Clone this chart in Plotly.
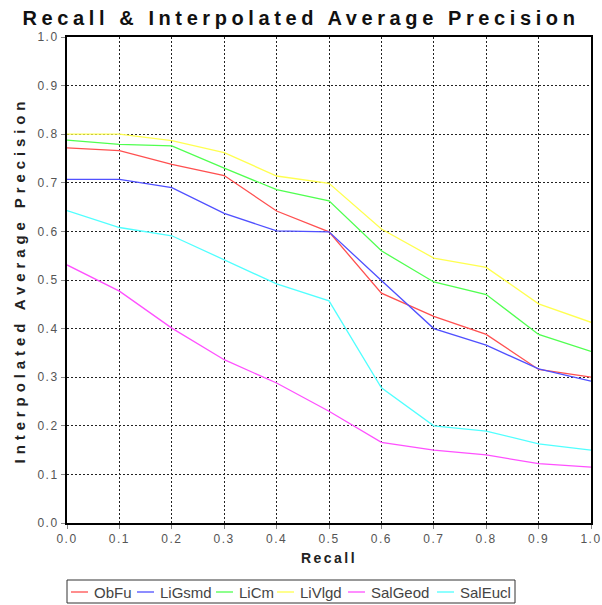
import plotly.graph_objects as go

recall = [0.0, 0.1, 0.2, 0.3, 0.4, 0.5, 0.6, 0.7, 0.8, 0.9, 1.0]
ObFu = [0.772, 0.766, 0.738, 0.715, 0.642, 0.599, 0.473, 0.425, 0.388, 0.316, 0.300]
LiGsmd = [0.707, 0.707, 0.690, 0.637, 0.601, 0.599, 0.499, 0.400, 0.366, 0.317, 0.292]
LiCm = [0.788, 0.779, 0.776, 0.730, 0.686, 0.663, 0.560, 0.496, 0.470, 0.388, 0.353]
LiVlgd = [0.800, 0.800, 0.787, 0.762, 0.714, 0.699, 0.605, 0.545, 0.526, 0.451, 0.413]
SalGeod = [0.531, 0.477, 0.401, 0.336, 0.288, 0.230, 0.166, 0.150, 0.140, 0.122, 0.115]
SalEucl = [0.643, 0.608, 0.591, 0.542, 0.492, 0.457, 0.278, 0.200, 0.189, 0.163, 0.150]

series_names = ["ObFu", "LiGsmd", "LiCm", "LiVlgd", "SalGeod", "SalEucl"]
series_values = [ObFu, LiGsmd, LiCm, LiVlgd, SalGeod, SalEucl]
colors = ["#ff5050", "#5050ff", "#50ff50", "#ffff50", "#ff50ff", "#50ffff"]
tick_vals = [0.0, 0.1, 0.2, 0.3, 0.4, 0.5, 0.6, 0.7, 0.8, 0.9, 1.0]
tick_text = ["0.0", "0.1", "0.2", "0.3", "0.4", "0.5", "0.6", "0.7", "0.8", "0.9", "1.0"]

FONT = "Liberation Sans, Arial, sans-serif"
W, H = 602, 605
ML, MR, MT, MB = 67, 11, 37, 82
PW, PH = W - ML - MR, H - MT - MB


def px_x(px):
    return (px - ML) / PW


def px_y(py):
    return (H - MB - py) / PH


fig = go.Figure()
for name, vals, col in zip(series_names, series_values, colors):
    fig.add_trace(go.Scatter(x=recall, y=vals, mode="lines", name=name,
                             line=dict(color=col, width=1.3)))

axis_common = dict(
    range=[0, 1], tickvals=tick_vals, ticktext=tick_text,
    showgrid=True, gridcolor="#222222", gridwidth=1, griddash="2px,2px",
    showline=True, linecolor="#000000", mirror=True, zeroline=False,
    ticks="outside", ticklen=4, tickcolor="#888888",
    tickfont=dict(family=FONT, size=12, color="#555555"),
)

# legend box (layout decoration) built from the series names / colours
legend_item_px = [71, 137, 216, 277, 348, 437]   # left edge of each swatch
shapes = [dict(type="rect", xref="paper", yref="paper",
               x0=px_x(67), x1=px_x(515), y0=px_y(603), y1=px_y(580),
               line=dict(color="#333333", width=1), fillcolor="white", layer="above")]
annotations = []
for name, col, lx in zip(series_names, colors, legend_item_px):
    shapes.append(dict(type="line", xref="paper", yref="paper",
                       x0=px_x(lx), x1=px_x(lx + 17), y0=px_y(592), y1=px_y(592),
                       line=dict(color=col, width=1.3), layer="above"))
    annotations.append(dict(text=name, xref="paper", yref="paper",
                            x=px_x(lx + 21), y=px_y(592), xanchor="left", yanchor="middle",
                            showarrow=False,
                            font=dict(family=FONT, size=15, color="#444444")))

fig.update_layout(
    width=W, height=H,
    margin=dict(l=ML, r=MR, t=MT, b=MB, autoexpand=False),
    paper_bgcolor="white", plot_bgcolor="white",
    title=dict(text="<b>Recall & Interpolated Average Precision</b>",
               x=0.5, xanchor="center", xref="container",
               y=1 - 18 / H, yanchor="middle", yref="container",
               font=dict(family=FONT, size=20, color="#111111")),
    xaxis=dict(**axis_common, linewidth=1.5,
               title=dict(text="<b>Recall</b>", standoff=8,
                          font=dict(family=FONT, size=14, color="#222222"))),
    yaxis=dict(**axis_common, linewidth=2,
               title=dict(text="<b>Interpolated Average Precision</b>", standoff=13,
                          font=dict(family=FONT, size=15, color="#222222"))),
    showlegend=False,
    shapes=shapes,
    annotations=annotations,
)

post = """
var s=document.createElement('style');
s.textContent='html,body{margin:0;padding:0} .gtitle{letter-spacing:4.6px} .xtitle{letter-spacing:2.5px} .ytitle{letter-spacing:4.9px} .xtick text,.ytick text{letter-spacing:1.5px}';
document.head.appendChild(s);
"""
fig.write_html("out.html", post_script=post, config={"displayModeBar": False})
